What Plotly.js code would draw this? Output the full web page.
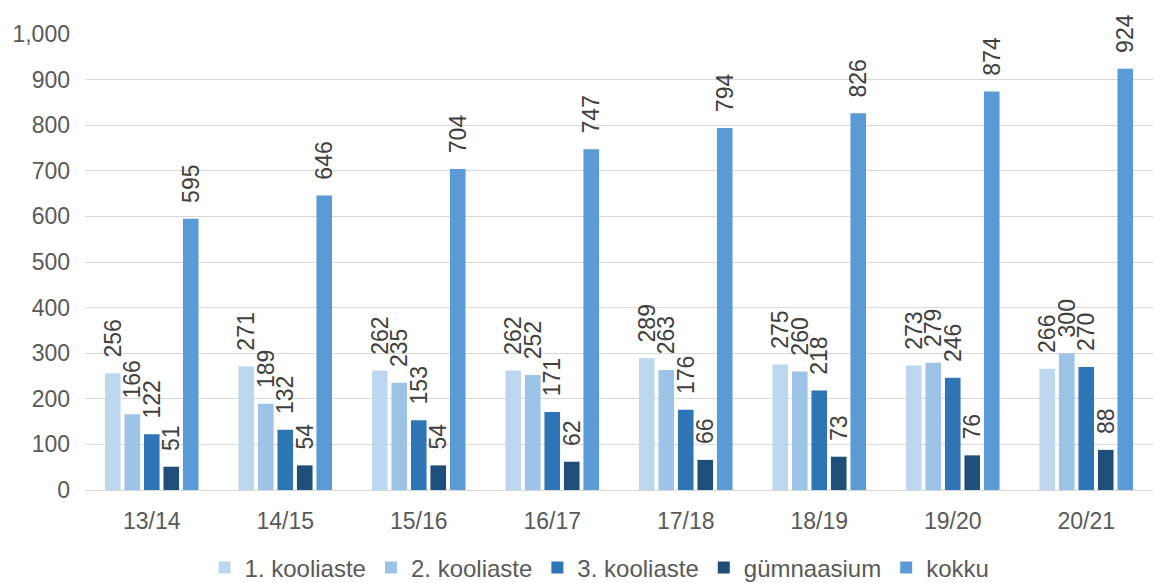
<!DOCTYPE html>
<html>
<head>
<meta charset="utf-8">
<script src="https://cdn.plot.ly/plotly-3.0.1.min.js"></script>
<style>html,body{margin:0;padding:0;background:#fff;}#chart{width:1153px;height:583px;}</style>
</head>
<body>
<div id="chart"></div>
<script>
const categories = ["13/14","14/15","15/16","16/17","17/18","18/19","19/20","20/21"];
const seriesNames = ["1. kooliaste","2. kooliaste","3. kooliaste","gümnaasium","kokku"];
const kooliaste1 = [256,271,262,262,289,275,273,266];
const kooliaste2 = [166,189,235,252,263,260,279,300];
const kooliaste3 = [122,132,153,171,176,218,246,270];
const gymnaasium = [51,54,54,62,66,73,76,88];
const kokku = [595,646,704,747,794,826,874,924];
const colors = ["#BDD7EE","#9DC3E6","#2E75B6","#1F4E79","#5B9BD5"];
const allSeries = [kooliaste1,kooliaste2,kooliaste3,gymnaasium,kokku];

const traces = allSeries.map((vals,i)=>({
  type:"bar",
  name:seriesNames[i],
  x:categories,
  y:vals,
  marker:{color:colors[i]},
  text:vals.map(v=>"\u00a0\u00a0"+v),
  textposition:"outside",
  textangle:-90,
  constraintext:"none",
  cliponaxis:false,
  textfont:{family:"Liberation Sans, Arial, sans-serif",size:23,color:"#404040"},
  hoverinfo:"none"
}));

const layout = {
  width:1153,height:583,
  margin:{l:85,r:0,t:34,b:93,autoexpand:false},
  paper_bgcolor:"#fff",plot_bgcolor:"#fff",
  barmode:"group",
  bargap:0.27,
  bargroupgap:0.2,
  font:{family:"Liberation Sans, Arial, sans-serif",size:23,color:"#595959"},
  xaxis:{showgrid:false,showline:true,linecolor:"#d9d9d9",linewidth:1,ticks:"",tickfont:{size:23,color:"#595959"},ticklabelstandoff:10},
  yaxis:{range:[0,1000],dtick:100,tickformat:",",showgrid:true,gridcolor:"#d9d9d9",gridwidth:1,zeroline:false,showline:false,ticks:"",tickfont:{size:23,color:"#595959"},ticklabelstandoff:14},
  legend:{orientation:"h",x:0.52,xanchor:"center",xref:"container",y:0.026,yanchor:"middle",yref:"container",font:{size:24,color:"#595959"},itemwidth:30,traceorder:"normal"},
  showlegend:true
};
Plotly.newPlot("chart",traces,layout,{staticPlot:true});
</script>
</body>
</html>
